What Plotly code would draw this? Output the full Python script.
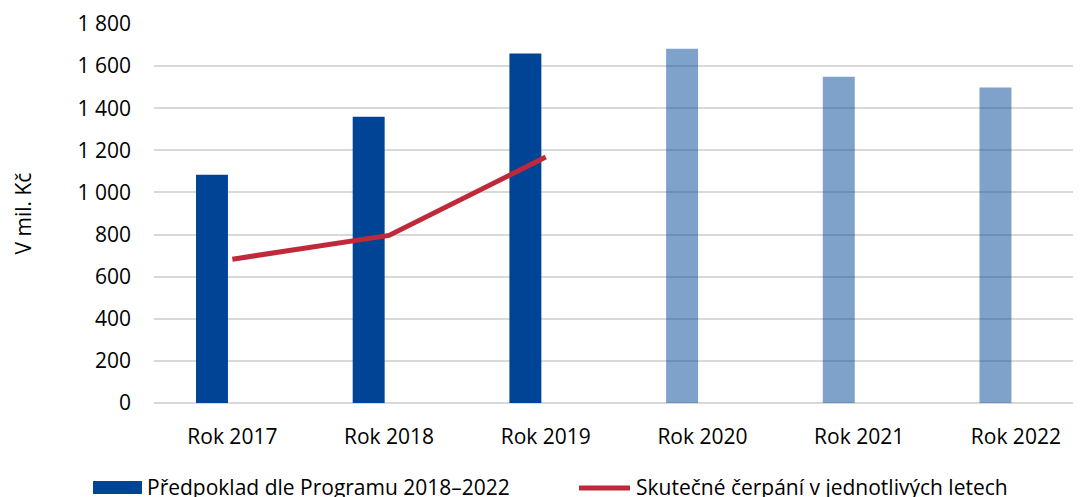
import plotly.graph_objects as go

categories = ["Rok 2017", "Rok 2018", "Rok 2019", "Rok 2020", "Rok 2021", "Rok 2022"]
plan_values = [1084, 1360, 1660, 1683, 1550, 1498]
actual_years = ["Rok 2017", "Rok 2018", "Rok 2019"]
actual_values = [683, 796, 1168]
is_past = [True, True, True, False, False, False]

plan_name = "Předpoklad dle Programu 2018–2022"
actual_name = "Skutečné čerpání v jednotlivých letech"
y_title = "V mil. Kč"

DARK = "#004595"
LIGHT = "rgba(0,69,149,0.5)"
RED = "#C0293A"
FONT = "Open Sans"
FS = 21

# page body margin offset (8px) compensation
OFF = 8
W, H = 1081 - OFF, 497 - OFF
# plot area in reference pixels: x 154..1081, y 24..403
ML, MR, MT, MB = 154 - OFF, 0, 24 - OFF, 497 - 403
PW = W - ML - MR
PH = H - MT - MB
cat_px = 156.7

def px_x(px):
    return (px - 154) / PW

def px_y(py):
    return (403 - py) / PH

fig = go.Figure()
fig.add_trace(go.Bar(
    x=categories, y=plan_values, name=plan_name,
    marker=dict(color=[DARK if p else LIGHT for p in is_past], line=dict(width=0)),
    offset=-0.232, width=0.204, showlegend=False,
))
fig.add_trace(go.Scatter(
    x=actual_years, y=actual_values, name=actual_name, mode="lines",
    line=dict(color=RED, width=5), showlegend=False,
))

fig.update_layout(
    width=W, height=H,
    margin=dict(l=ML, r=MR, t=MT, b=MB, pad=0),
    plot_bgcolor="white", paper_bgcolor="white",
    font=dict(family=FONT, size=FS, color="#000000"),
    separators=", ",
    showlegend=False,
    xaxis=dict(
        type="category", range=[-0.5, -0.5 + PW / cat_px],
        showgrid=False, zeroline=False, showline=False, ticks="",
        ticklabelstandoff=19, tickfont=dict(size=FS),
    ),
    yaxis=dict(
        range=[0, 1800], dtick=200, tickformat=",d",
        showgrid=True, gridcolor="#D9D9D9", gridwidth=1.5,
        zeroline=True, zerolinecolor="#D9D9D9", zerolinewidth=1.5,
        showline=False, ticks="", ticklabelstandoff=22, tickfont=dict(size=FS),
    ),
)

# y-axis title
fig.add_annotation(
    text=y_title, xref="paper", yref="paper", x=px_x(22), y=0.5,
    xanchor="center", yanchor="middle", textangle=-90, showarrow=False,
    font=dict(size=FS, family=FONT, color="#000000"),
)

# custom legend
fig.add_shape(type="rect", xref="paper", yref="paper",
              x0=px_x(93), x1=px_x(142), y0=px_y(494), y1=px_y(481),
              fillcolor=DARK, line=dict(width=0))
fig.add_annotation(text=plan_name, xref="paper", yref="paper",
                   x=px_x(145), y=px_y(487), xanchor="left", yanchor="middle",
                   showarrow=False, font=dict(size=FS, family=FONT, color="#000000"))
fig.add_shape(type="line", xref="paper", yref="paper",
              x0=px_x(579), x1=px_x(630), y0=px_y(488), y1=px_y(488),
              line=dict(color=RED, width=5))
fig.add_annotation(text=actual_name, xref="paper", yref="paper",
                   x=px_x(634), y=px_y(487), xanchor="left", yanchor="middle",
                   showarrow=False, font=dict(size=FS, family=FONT, color="#000000"))

fig.write_html("out.html")
